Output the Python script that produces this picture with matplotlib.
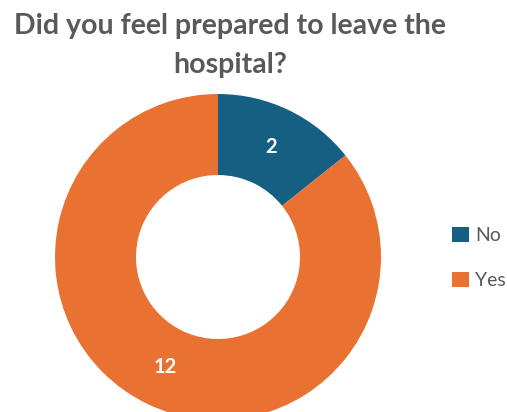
import matplotlib
matplotlib.use("Agg")
import matplotlib.pyplot as plt
from matplotlib.patches import Patch
import numpy as np

categories = ["No", "Yes"]
counts = [2, 12]
colors = ["#156082", "#E97132"]
title = "Did you feel prepared to leave the\nhospital?"

FONT = "Lato"
W, H = 507, 412
fig = plt.figure(figsize=(W / 100, H / 100), dpi=100)

cx, cy, r = 218, 257, 163
ring = 0.497
ax = fig.add_axes([(cx - r) / W, (H - cy - r) / H, 2 * r / W, 2 * r / H])
wedges, texts = ax.pie(
    counts, colors=colors, startangle=90, counterclock=False, radius=1.0,
    wedgeprops=dict(width=ring, linewidth=0),
)
ax.set_xlim(-1, 1)
ax.set_ylim(-1, 1)
ax.set_aspect("equal")
ax.axis("off")
for w in wedges:
    w.set_clip_on(False)

# value labels at the middle of each ring segment
total = sum(counts)
start = 90.0
mid_r = 1 - ring / 2
for v in counts:
    ang = start - v / total * 360 / 2
    start -= v / total * 360
    x = mid_r * np.cos(np.radians(ang))
    y = mid_r * np.sin(np.radians(ang))
    ax.text(x, y, str(v), ha="center", va="center", color="white",
            fontsize=14.5, fontweight="bold", family=FONT)

fig.text(230 / W, 1 - 13 / H, title, ha="center", va="top", color="#595959",
         fontsize=20.5, fontweight="bold", family=FONT, linespacing=1.62)

handles = [Patch(facecolor=c, edgecolor="none") for c in colors]
leg = fig.legend(handles, categories, loc="center left",
                 bbox_to_anchor=(452 / W, 1 - 258 / H), frameon=False,
                 borderpad=0, borderaxespad=0,
                 prop=dict(family=FONT, size=14), labelcolor="#595959",
                 handlelength=0.85, handleheight=0.85, handletextpad=0.35,
                 labelspacing=1.4)

fig.savefig("out.png", dpi=100)
